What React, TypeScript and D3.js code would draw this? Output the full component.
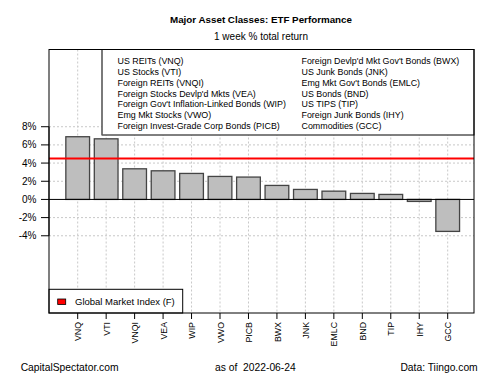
import React from "react";
import * as d3 from "d3";

const tickers = ["VNQ", "VTI", "VNQI", "VEA", "WIP", "VWO", "PICB", "BWX", "JNK", "EMLC", "BND", "TIP", "IHY", "GCC"];
const returns = [6.9, 6.67, 3.37, 3.15, 2.86, 2.53, 2.46, 1.54, 1.1, 0.91, 0.66, 0.55, -0.22, -3.52];
const gmiValue = 4.5;
const yTicks = [-4, -2, 0, 2, 4, 6, 8];
const legendCol1 = [
  "US REITs (VNQ)",
  "US Stocks (VTI)",
  "Foreign REITs (VNQI)",
  "Foreign Stocks Devlp'd Mkts (VEA)",
  "Foreign Gov't Inflation-Linked Bonds (WIP)",
  "Emg Mkt Stocks (VWO)",
  "Foreign Invest-Grade Corp Bonds (PICB)",
];
const legendCol2 = [
  "Foreign Devlp'd Mkt Gov't Bonds (BWX)",
  "US Junk Bonds (JNK)",
  "Emg Mkt Gov't Bonds (EMLC)",
  "US Bonds (BND)",
  "US TIPS (TIP)",
  "Foreign Junk Bonds (IHY)",
  "Commodities (GCC)",
];

const W = 500, H = 375;
const L = 49, R = 474, T = 49.5, B = 313;
const font = "Liberation Sans, Arial, sans-serif";

export default function App() {
  const y = d3.scaleLinear().domain([-12.5, 16.5]).range([B, T]);
  const x = d3.scalePoint<string>().domain(tickers).range([77.7, 447.7]);
  const step = x.step();
  const bw = step / 1.2;
  return (
    <svg width={W} height={H} style={{ position: "absolute", left: 0, top: 0, background: "#fff" }} fontFamily={font}>
      <rect x={0} y={0} width={W} height={H} fill="#fff" />
      <text x={261} y={23} textAnchor="middle" fontWeight="bold" fontSize={9.8}>Major Asset Classes: ETF Performance</text>
      <text x={261} y={40} textAnchor="middle" fontSize={10}>1 week % total return</text>
      {/* grid */}
      {yTicks.filter(t => t !== 0).map(t => (
        <line key={"h" + t} x1={L} x2={R} y1={y(t)} y2={y(t)} stroke="#c8c8c8" strokeDasharray="2,2" />
      ))}
      {tickers.map(t => (
        <line key={"v" + t} x1={x(t)} x2={x(t)} y1={T} y2={B} stroke="#c8c8c8" strokeDasharray="2,2" />
      ))}
      {/* bars */}
      {tickers.map((t, i) => {
        const v = returns[i];
        return (
          <rect key={t} x={x(t)! - bw / 2} width={bw} y={y(Math.max(0, v))} height={Math.abs(y(v) - y(0))}
            fill="#bebebe" stroke="#444" strokeWidth={1.3} />
        );
      })}
      <line x1={L} x2={R} y1={y(0)} y2={y(0)} stroke="#000" strokeWidth={1} />
      <line x1={L} x2={R} y1={y(gmiValue)} y2={y(gmiValue)} stroke="#ff0000" strokeWidth={2} />
      {/* top legend */}
      <rect x={102} y={T} width={R - 102} height={135 - T} fill="#fff" stroke="#000" strokeWidth={1} />
      <line x1={102} x2={102} y1={T} y2={135} stroke="#777" strokeWidth={1.2} />
      {legendCol1.map((s, i) => (
        <text key={s} x={117.5} y={61 + i * 10.8} dy="0.35em" fontSize={8.9}>{s}</text>
      ))}
      {legendCol2.map((s, i) => (
        <text key={s} x={301.5} y={61 + i * 10.8} dy="0.35em" fontSize={8.9}>{s}</text>
      ))}
      {/* bottom legend */}
      <rect x={L} y={289.3} width={182.7 - L} height={B - 289.3} fill="#fff" stroke="#000" strokeWidth={1} />
      <rect x={57.7} y={299} width={8} height={5.5} fill="#ff0000" stroke="#000" strokeWidth={0.8} />
      <text x={75} y={302} dy="0.35em" fontSize={9.5}>Global Market Index (F)</text>
      {/* plot border */}
      <rect x={L} y={T} width={R - L} height={B - T} fill="none" stroke="#000" strokeWidth={1} />
      {/* y axis */}
      <line x1={L} x2={L} y1={y(-4)} y2={y(8)} stroke="#000" />
      {yTicks.map(t => (
        <g key={"yt" + t}>
          <line x1={L - 8} x2={L} y1={y(t)} y2={y(t)} stroke="#000" />
          <text x={36.5} y={y(t)} dy="0.35em" textAnchor="end" fontSize={10}>{t + "%"}</text>
        </g>
      ))}
      {/* x axis */}
      {tickers.map(t => (
        <g key={"xt" + t}>
          <line x1={x(t)} x2={x(t)} y1={B} y2={B + 6} stroke="#000" />
          <text transform={`translate(${x(t)! + 0.5},${322}) rotate(-90)`} textAnchor="end" dy="0.35em" fontSize={8.8}>{t}</text>
        </g>
      ))}
      {/* footer */}
      <text x={20.7} y={367.5} dy="0.35em" fontSize={10.3}>CapitalSpectator.com</text>
      <text x={215} y={367.5} dy="0.35em" fontSize={10.3}>as of&#160;&#160;2022-06-24</text>
      <text x={477.7} y={367.5} dy="0.35em" textAnchor="end" fontSize={10.3}>Data: Tiingo.com</text>
    </svg>
  );
}
